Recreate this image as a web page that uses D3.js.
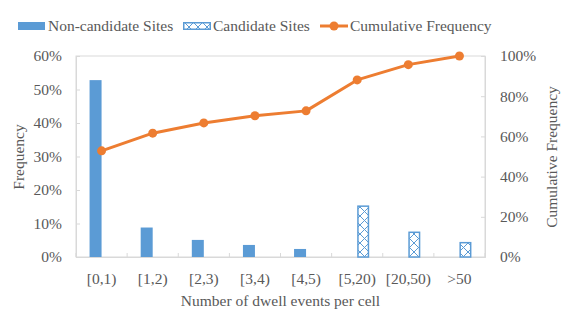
<!DOCTYPE html>
<html><head><meta charset="utf-8">
<script src="https://cdn.jsdelivr.net/npm/d3@7"></script>
<style>body{margin:0;background:#fff}svg{display:block}text{font-family:"Liberation Serif","Times New Roman",serif;fill:#595959}</style>
</head><body><svg id="c" width="566" height="325"></svg>
<script>
const categories = ["[0,1)","[1,2)","[2,3)","[3,4)","[4,5)","[5,20)","[20,50)",">50"];
const nonCandidate = [0.528,0.088,0.051,0.036,0.024,null,null,null];
const candidate = [null,null,null,null,null,0.154,0.076,0.045];
const cumulative = [0.528,0.616,0.667,0.703,0.727,0.881,0.957,1.0];
const leftTicks = [0,0.1,0.2,0.3,0.4,0.5,0.6];
const rightTicks = [0,0.2,0.4,0.6,0.8,1.0];
const seriesNames = ["Non-candidate Sites","Candidate Sites","Cumulative Frequency"];

const svg = d3.select("#c");
const L=76,R=485,T=56,B=257;
const blue="#5b9bd5", orange="#ed7d31", frame="#d9d9d9";
const fs="15.5px";
const x = d3.scaleBand().domain(categories).range([L,R]);
const yL = d3.scaleLinear().domain([0,0.6]).range([B,T]);
const yR = d3.scaleLinear().domain([0,1]).range([B,T]);
const pct = d3.format(".0%");

const defs = svg.append("defs");
const pat = defs.append("pattern").attr("id","hatch").attr("patternUnits","userSpaceOnUse")
  .attr("width",9).attr("height",9);
pat.append("rect").attr("width",9).attr("height",9).attr("fill","#fff");
pat.append("path").attr("d","M0,0L9,9M9,0L0,9").attr("stroke",blue).attr("stroke-width",1);

svg.append("rect").attr("x",L).attr("y",T).attr("width",R-L).attr("height",B-T)
  .attr("fill","none").attr("stroke",frame).attr("stroke-width",1);

const gl = svg.append("g").attr("transform",`translate(${L},0)`)
  .call(d3.axisLeft(yL).tickValues(leftTicks).tickFormat(pct).tickSize(-4).tickPadding(14));
const gr = svg.append("g").attr("transform",`translate(${R},0)`)
  .call(d3.axisRight(yR).tickValues(rightTicks).tickFormat(pct).tickSize(-4).tickPadding(15));
const gb = svg.append("g").attr("transform",`translate(0,${B})`)
  .call(d3.axisBottom(x).tickSize(0).tickPadding(16));
[gl,gr,gb].forEach(g=>{
  g.select(".domain").attr("stroke",frame);
  g.selectAll(".tick line").attr("stroke",frame);
  g.selectAll("text").style("font-family","'Liberation Serif',serif").style("font-size",fs).attr("fill","#595959");
});
svg.append("g").selectAll("line").data(d3.range(categories.length+1)).join("line")
  .attr("x1",i=>L+i*x.step()).attr("x2",i=>L+i*x.step()).attr("y1",B).attr("y2",B-4)
  .attr("stroke",frame);

const bw = 12;
svg.append("g").selectAll("rect").data(categories.map((c,i)=>({c,v:nonCandidate[i]})).filter(d=>d.v!=null))
  .join("rect").attr("x",d=>x(d.c)+x.bandwidth()/2-bw).attr("width",bw)
  .attr("y",d=>yL(d.v)).attr("height",d=>B-yL(d.v)).attr("fill",blue);
svg.append("g").selectAll("rect").data(categories.map((c,i)=>({c,v:candidate[i]})).filter(d=>d.v!=null))
  .join("rect").attr("x",d=>x(d.c)+x.bandwidth()/2+0.75).attr("width",bw-1.5)
  .attr("y",d=>yL(d.v)+0.75).attr("height",d=>B-yL(d.v)-0.75).attr("fill","url(#hatch)")
  .attr("stroke",blue).attr("stroke-width",1.5);

const cx = c=>x(c)+x.bandwidth()/2;
const pts = categories.map((c,i)=>[cx(c),yR(cumulative[i])]);
svg.append("path").attr("d",d3.line()(pts)).attr("fill","none").attr("stroke",orange)
  .attr("stroke-width",3).attr("stroke-linejoin","round");
svg.append("g").selectAll("circle").data(pts).join("circle")
  .attr("cx",d=>d[0]).attr("cy",d=>d[1]).attr("r",4.5).attr("fill",orange);

svg.append("text").attr("transform","translate(24,157) rotate(-90)").attr("text-anchor","middle")
  .style("font-size",fs).text("Frequency");
svg.append("text").attr("transform","translate(557,157) rotate(-90)").attr("text-anchor","middle")
  .style("font-size",fs).text("Cumulative Frequency");
svg.append("text").attr("x",(L+R)/2).attr("y",306).attr("text-anchor","middle")
  .style("font-size",fs).text("Number of dwell events per cell");

const lg = svg.append("g");
lg.append("rect").attr("x",18).attr("y",22).attr("width",27).attr("height",8).attr("fill",blue);
lg.append("text").attr("x",48).attr("y",31).style("font-size",fs).text(seriesNames[0]);
lg.append("rect").attr("x",183.75).attr("y",22.75).attr("width",26.5).attr("height",6.5)
  .attr("fill","url(#hatch)").attr("stroke",blue).attr("stroke-width",1.5);
lg.append("text").attr("x",213).attr("y",31).style("font-size",fs).text(seriesNames[1]);
lg.append("line").attr("x1",320).attr("x2",348).attr("y1",26).attr("y2",26).attr("stroke",orange).attr("stroke-width",3);
lg.append("circle").attr("cx",334).attr("cy",26).attr("r",4.5).attr("fill",orange);
lg.append("text").attr("x",350).attr("y",31).style("font-size",fs).text(seriesNames[2]);
</script></body></html>
